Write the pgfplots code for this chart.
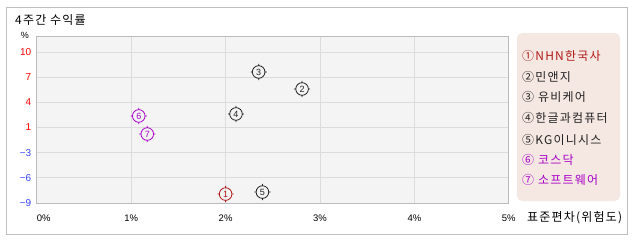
\documentclass[border=0pt]{standalone}
\usepackage{pgfplots}
\pgfplotsset{compat=1.18}
\usepackage{fontspec}
\setmainfont{Noto Sans CJK KR}
\newfontfamily\kr[LetterSpace=10]{Noto Sans CJK KR}
\newfontfamily\num{Liberation Sans}
\definecolor{framegray}{HTML}{BEBEBE}
\definecolor{plotbg}{HTML}{F4F4F4}
\definecolor{gridc}{HTML}{DCDCDC}
\definecolor{axisc}{HTML}{BBBBBB}
\definecolor{posred}{HTML}{FF0000}
\definecolor{negblue}{HTML}{3344FF}
\definecolor{c1}{HTML}{B01818}
\definecolor{c2}{HTML}{222222}
\definecolor{c6}{HTML}{A800C8}
\definecolor{legbg}{HTML}{F5E8E2}
\pgfdeclareplotmark{cmark}{%
  \pgfpathcircle{\pgfpointorigin}{\pgfplotmarksize}%
  \pgfpathmoveto{\pgfpoint{0pt}{\pgfplotmarksize}}\pgfpathlineto{\pgfpoint{0pt}{\pgfplotmarksize+1.8pt}}%
  \pgfpathmoveto{\pgfpoint{0pt}{-\pgfplotmarksize}}\pgfpathlineto{\pgfpoint{0pt}{-\pgfplotmarksize-1.8pt}}%
  \pgfpathmoveto{\pgfpoint{\pgfplotmarksize}{0pt}}\pgfpathlineto{\pgfpoint{\pgfplotmarksize+1.8pt}{0pt}}%
  \pgfpathmoveto{\pgfpoint{-\pgfplotmarksize}{0pt}}\pgfpathlineto{\pgfpoint{-\pgfplotmarksize-1.8pt}{0pt}}%
  \pgfusepathqstroke}
\begin{document}
\begin{tikzpicture}[x=1pt,y=1pt]
\path (0,0) rectangle (638,242);
\draw[framegray, line width=1pt] (6.5,7.5) rectangle (627.5,234.5);
\node[anchor=base west, inner sep=0pt, font=\kr\fontsize{12}{14}\selectfont] at (15,218) {4주간 수익률};
\node[anchor=center, inner sep=0pt, font=\num\fontsize{9}{10}\selectfont] at (25,207) {\%};
\begin{axis}[
  at={(39,49)}, anchor=south west, scale only axis,
  width=472pt, height=167pt,
  xmin=0, xmax=5, ymin=-9, ymax=12,
  axis background/.style={fill=plotbg},
  axis line style={axisc, line width=1pt},
  grid=major, major grid style={gridc, line width=0.8pt},
  major tick length=0pt,
  xtick={0,1,2,3,4,5},
  xticklabels={\makebox[0pt][l]{0\%},1\%,2\%,3\%,4\%,5\%},
  ytick={-9,-5.8333,-2.6667,0.5,3.6667,6.8333,10},
  yticklabels={\textcolor{negblue}{−9},\textcolor{negblue}{−6},\textcolor{negblue}{−3},\textcolor{posred}{1},\textcolor{posred}{4},\textcolor{posred}{7},\textcolor{posred}{10}},
  ticklabel style={font=\num\fontsize{10}{11}\selectfont},
  xticklabel style={font=\num\fontsize{9.5}{11}\selectfont, anchor=base, yshift=-18.5pt},
  yticklabel style={anchor=east, xshift=-2pt},
  clip=false,
  mark size=6.3pt,
  nodes near coords align=center,
]
\addplot[only marks, mark=cmark, c1, line width=0.8pt, nodes near coords={1}, every node near coord/.append style={font=\num\fontsize{9}{10}\selectfont, text=c1, inner sep=0pt}] coordinates {(2.00,-7.87)};
\addplot[only marks, mark=cmark, c2, line width=0.8pt, nodes near coords={2}, every node near coord/.append style={font=\num\fontsize{9}{10}\selectfont, text=c2, inner sep=0pt}] coordinates {(2.81,5.34)};
\addplot[only marks, mark=cmark, c2, line width=0.8pt, nodes near coords={3}, every node near coord/.append style={font=\num\fontsize{9}{10}\selectfont, text=c2, inner sep=0pt}] coordinates {(2.35,7.48)};
\addplot[only marks, mark=cmark, c2, line width=0.8pt, nodes near coords={4}, every node near coord/.append style={font=\num\fontsize{9}{10}\selectfont, text=c2, inner sep=0pt}] coordinates {(2.11,2.20)};
\addplot[only marks, mark=cmark, c2, line width=0.8pt, nodes near coords={5}, every node near coord/.append style={font=\num\fontsize{9}{10}\selectfont, text=c2, inner sep=0pt}] coordinates {(2.39,-7.62)};
\addplot[only marks, mark=cmark, c6, line width=0.8pt, nodes near coords={6}, every node near coord/.append style={font=\num\fontsize{9}{10}\selectfont, text=c6, inner sep=0pt}] coordinates {(1.08,1.95)};
\addplot[only marks, mark=cmark, c6, line width=0.8pt, nodes near coords={7}, every node near coord/.append style={font=\num\fontsize{9}{10}\selectfont, text=c6, inner sep=0pt}] coordinates {(1.17,-0.32)};
\end{axis}
\node[anchor=base west, inner sep=0pt, font=\kr\fontsize{12}{14}\selectfont] at (527,21) {표준편차(위험도)};
\fill[legbg, rounded corners=5pt] (517,41) rectangle (620,209);
\begin{scope}[every node/.style={anchor=west, inner sep=0pt, font=\kr\fontsize{12}{14}\selectfont}]
\node[text=c1] at (522,186) {①NHN한국사};
\node[text=c2] at (522,165) {②민앤지};
\node[text=c2] at (522,145) {③ 유비케어};
\node[text=c2] at (522,124) {④한글과컴퓨터};
\node[text=c2] at (522,102) {⑤KG이니시스};
\node[text=c6] at (522,82) {⑥ 코스닥};
\node[text=c6] at (522,62) {⑦ 소프트웨어};
\end{scope}
\end{tikzpicture}
\end{document}
